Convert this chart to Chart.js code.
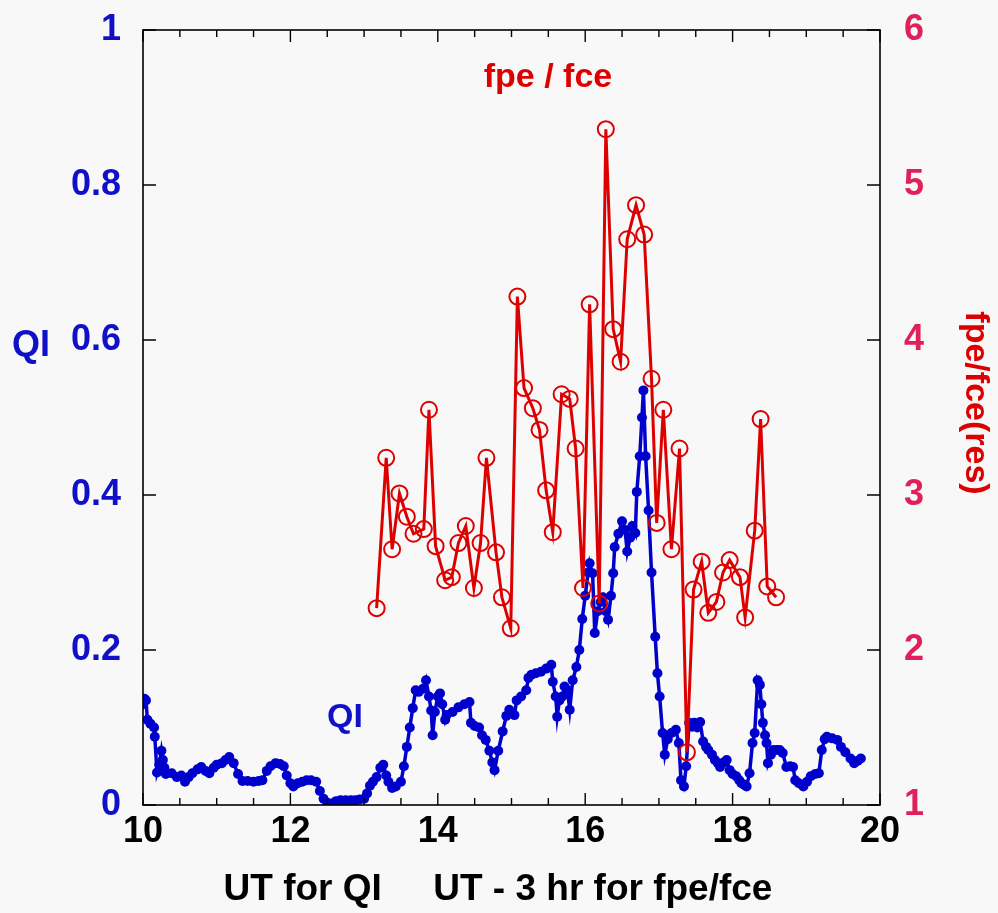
<!DOCTYPE html>
<html>
<head>
<meta charset="utf-8">
<script src="https://cdn.jsdelivr.net/npm/chart.js@4"></script>
<style>
  html, body { margin: 0; padding: 0; background: #f8f8f8; }
  #wrap { position: relative; width: 998px; height: 913px; }
</style>
</head>
<body>
<div id="wrap"><canvas id="chart" width="998" height="913"></canvas></div>
<script>
// QI series (UT hours)
const qiTime = [
  10.00, 10.02, 10.04, 10.06, 10.10, 10.15, 10.16, 10.19, 10.22, 10.25, 10.27, 10.29, 10.31, 10.39, 10.46,
  10.52, 10.57, 10.62, 10.67, 10.74, 10.79, 10.85, 10.90, 10.96, 11.00, 11.07, 11.12, 11.17, 11.23, 11.29,
  11.35, 11.42, 11.50, 11.57, 11.62, 11.68, 11.73, 11.80, 11.86, 11.91, 11.95, 12.00, 12.04, 12.10, 12.16,
  12.22, 12.28, 12.35, 12.40, 12.45, 12.50, 12.56, 12.62, 12.68, 12.75, 12.82, 12.88, 12.94, 13.00, 13.04,
  13.08, 13.12, 13.17, 13.22, 13.26, 13.30, 13.33, 13.38, 13.43, 13.50, 13.54, 13.58, 13.62, 13.66, 13.70,
  13.74, 13.80, 13.84, 13.88, 13.91, 13.93, 13.96, 14.00, 14.03, 14.06, 14.10, 14.12, 14.20, 14.28, 14.36,
  14.43, 14.45, 14.50, 14.56, 14.60, 14.65, 14.70, 14.74, 14.77, 14.82, 14.88, 14.93, 14.97, 15.04, 15.07,
  15.13, 15.20, 15.23, 15.27, 15.33, 15.40, 15.47, 15.54, 15.56, 15.60, 15.62, 15.65, 15.69, 15.72, 15.76,
  15.79, 15.83, 15.88, 15.92, 15.96, 16.00, 16.04, 16.06, 16.10, 16.13, 16.17, 16.21, 16.24, 16.28, 16.31,
  16.35, 16.38, 16.40, 16.45, 16.50, 16.54, 16.57, 16.61, 16.64, 16.68, 16.70, 16.74, 16.77, 16.79, 16.82,
  16.86, 16.90, 16.95, 16.98, 17.01, 17.05, 17.08, 17.12, 17.17, 17.23, 17.27, 17.30, 17.34, 17.37, 17.41,
  17.45, 17.48, 17.52, 17.56, 17.60, 17.64, 17.67, 17.72, 17.76, 17.80, 17.83, 17.88, 17.92, 17.96, 18.00,
  18.05, 18.09, 18.12, 18.16, 18.19, 18.23, 18.27, 18.30, 18.34, 18.37, 18.39, 18.41, 18.44, 18.46, 18.48,
  18.52, 18.55, 18.60, 18.64, 18.68, 18.73, 18.78, 18.82, 18.85, 18.90, 18.96, 19.01, 19.06, 19.12, 19.17,
  19.21, 19.25, 19.28, 19.35, 19.42, 19.47, 19.53, 19.60, 19.65, 19.70, 19.74
];
const qiValue = [
  0.130, 0.137, 0.135, 0.110, 0.105, 0.100, 0.088, 0.042, 0.052, 0.070, 0.058, 0.048, 0.040, 0.041, 0.036,
  0.038, 0.030, 0.036, 0.041, 0.046, 0.049, 0.044, 0.041, 0.048, 0.052, 0.054, 0.058, 0.062, 0.054, 0.040,
  0.031, 0.031, 0.030, 0.031, 0.032, 0.044, 0.050, 0.054, 0.053, 0.050, 0.038, 0.028, 0.024, 0.028, 0.030,
  0.032, 0.032, 0.030, 0.018, 0.008, 0.003, 0.002, 0.005, 0.006, 0.006, 0.006, 0.006, 0.007, 0.008, 0.015,
  0.025, 0.030, 0.036, 0.048, 0.052, 0.038, 0.030, 0.022, 0.024, 0.030, 0.050, 0.075, 0.100, 0.125, 0.148,
  0.146, 0.150, 0.161, 0.140, 0.122, 0.090, 0.120, 0.140, 0.144, 0.130, 0.110, 0.116, 0.120, 0.126, 0.130,
  0.133, 0.106, 0.102, 0.100, 0.090, 0.084, 0.070, 0.055, 0.045, 0.070, 0.095, 0.115, 0.123, 0.116, 0.135,
  0.140, 0.148, 0.164, 0.168, 0.170, 0.172, 0.176, 0.181, 0.159, 0.140, 0.114, 0.135, 0.140, 0.153, 0.148,
  0.123, 0.161, 0.178, 0.200, 0.240, 0.270, 0.300, 0.312, 0.299, 0.222, 0.250, 0.262, 0.268, 0.250, 0.239,
  0.270, 0.299, 0.333, 0.350, 0.366, 0.355, 0.327, 0.345, 0.360, 0.351, 0.404, 0.450, 0.500, 0.535, 0.450,
  0.380, 0.300, 0.217, 0.170, 0.140, 0.093, 0.065, 0.085, 0.093, 0.097, 0.080, 0.032, 0.024, 0.050, 0.106,
  0.101, 0.106, 0.100, 0.107, 0.082, 0.075, 0.071, 0.065, 0.058, 0.054, 0.049, 0.055, 0.058, 0.045, 0.040,
  0.037, 0.032, 0.028, 0.026, 0.024, 0.041, 0.080, 0.093, 0.161, 0.155, 0.130, 0.106, 0.090, 0.080, 0.054,
  0.065, 0.071, 0.071, 0.071, 0.067, 0.049, 0.050, 0.049, 0.032, 0.028, 0.024, 0.030, 0.037, 0.040, 0.041,
  0.071, 0.085, 0.088, 0.086, 0.084, 0.075, 0.068, 0.060, 0.054, 0.057, 0.060
];

// fpe/fce series (UT - 3 hr)
const ratioTime = [
  13.17, 13.30, 13.38, 13.48, 13.58, 13.67, 13.81, 13.88, 13.97, 14.10, 14.19, 14.28, 14.38, 14.49, 14.58,
  14.66, 14.79, 14.87, 14.99, 15.08, 15.17, 15.29, 15.38, 15.47, 15.56, 15.68, 15.79, 15.87, 15.97, 16.06,
  16.19, 16.28, 16.38, 16.48, 16.57, 16.69, 16.80, 16.90, 16.97, 17.06, 17.17, 17.28, 17.38, 17.47, 17.58,
  17.67, 17.78, 17.87, 17.96, 18.10, 18.17, 18.30, 18.38, 18.47, 18.59
];
const ratioValue = [
  2.27, 3.24, 2.65, 3.01, 2.86, 2.75, 2.78, 3.55, 2.67, 2.45, 2.47, 2.69, 2.80, 2.40, 2.69,
  3.24, 2.63, 2.34, 2.14, 4.28, 3.69, 3.56, 3.42, 3.03, 2.76, 3.65, 3.62, 3.30, 2.40, 4.23,
  2.30, 5.36, 4.07, 3.86, 4.65, 4.87, 4.68, 3.75, 2.82, 3.55, 2.65, 3.30, 1.34, 2.39, 2.57,
  2.24, 2.31, 2.50, 2.58, 2.47, 2.21, 2.77, 3.49, 2.41, 2.34
];

const xTicks = [10, 12, 14, 16, 18, 20];
const qiTicks = [0, 0.2, 0.4, 0.6, 0.8, 1];
const qiTickLabels = ['0', '0.2', '0.4', '0.6', '0.8', '1'];
const ratioTicks = [1, 2, 3, 4, 5, 6];

const FONT = '"Liberation Sans", Arial, Helvetica, sans-serif';
const BLUE = '#0000cc';
const BLUE_TEXT = '#1010c8';
const RED = '#dd0000';
const RATIO_TICK = '#e0205a';

function noPad(scale) {
  scale.paddingTop = 0;
  scale.paddingBottom = 0;
  scale.paddingLeft = 0;
  scale.paddingRight = 0;
}

// frame, inward ticks and free text
const framePlugin = {
  id: 'frame',
  afterDraw(chart) {
    const ctx = chart.ctx;
    const a = chart.chartArea;
    const x = chart.scales.x, y = chart.scales.y, y2 = chart.scales.y2;
    ctx.save();
    ctx.strokeStyle = '#000';
    ctx.lineWidth = 1.6;
    ctx.strokeRect(a.left, a.top, a.right - a.left, a.bottom - a.top);

    ctx.lineWidth = 1.4;
    ctx.beginPath();
    for (let v = 10; v <= 20.001; v += 0.5) {
      const px = x.getPixelForValue(v);
      const len = Math.abs(v / 2 - Math.round(v / 2)) < 1e-6 ? 12 : 7;
      ctx.moveTo(px, a.bottom); ctx.lineTo(px, a.bottom - len);
      ctx.moveTo(px, a.top); ctx.lineTo(px, a.top + len);
    }
    qiTicks.forEach(v => {
      const py = y.getPixelForValue(v);
      ctx.moveTo(a.left, py); ctx.lineTo(a.left + 13, py);
    });
    ratioTicks.forEach(v => {
      const py = y2.getPixelForValue(v);
      ctx.moveTo(a.right, py); ctx.lineTo(a.right - 13, py);
    });
    ctx.stroke();

    ctx.textAlign = 'center';
    ctx.textBaseline = 'middle';
    ctx.font = 'bold 34px ' + FONT;
    ctx.fillStyle = RED;
    ctx.fillText('fpe / fce', 548, 78);

    ctx.fillStyle = BLUE_TEXT;
    ctx.fillText('QI', 345, 718);
    ctx.font = 'bold 36px ' + FONT;
    ctx.fillText('QI', 31, 346);

    ctx.fillStyle = '#000';
    ctx.font = 'bold 37px ' + FONT;
    ctx.fillText('UT for QI     UT - 3 hr for fpe/fce', 498, 890);

    ctx.save();
    ctx.translate(975, 403);
    ctx.rotate(Math.PI / 2);
    ctx.fillStyle = RED;
    ctx.font = 'bold 34px ' + FONT;
    ctx.fillText('fpe/fce(res)', 0, 0);
    ctx.restore();
    ctx.restore();
  }
};

const ctx = document.getElementById('chart').getContext('2d');
new Chart(ctx, {
  type: 'line',
  data: {
    datasets: [
      {
        label: 'fpe / fce',
        data: ratioTime.map((t, i) => ({ x: t, y: ratioValue[i] })),
        yAxisID: 'y2',
        borderColor: RED,
        borderWidth: 3,
        pointStyle: 'circle',
        pointRadius: 8,
        pointBorderWidth: 2,
        pointBorderColor: RED,
        pointBackgroundColor: 'rgba(0,0,0,0)',
        tension: 0
      },
      {
        label: 'QI',
        data: qiTime.map((t, i) => ({ x: t, y: qiValue[i] })),
        yAxisID: 'y',
        borderColor: BLUE,
        borderWidth: 3.5,
        pointRadius: 5,
        pointBorderWidth: 0,
        pointBackgroundColor: BLUE,
        tension: 0
      }
    ]
  },
  options: {
    responsive: false,
    animation: false,
    layout: { padding: { top: 30, left: 0, right: 0, bottom: 0 } },
    plugins: {
      legend: { display: false },
      tooltip: { enabled: false },
      title: { display: false }
    },
    scales: {
      x: {
        type: 'linear',
        min: 10,
        max: 20,
        afterBuildTicks: s => { s.ticks = xTicks.map(v => ({ value: v })); },
        ticks: {
          color: '#000',
          font: { family: FONT, size: 36, weight: 'bold' },
          padding: 5,
          maxRotation: 0
        },
        grid: { display: false, drawTicks: false },
        border: { display: false },
        afterFit: s => { s.height = 108; noPad(s); }
      },
      y: {
        position: 'left',
        min: 0,
        max: 1,
        afterBuildTicks: s => { s.ticks = qiTicks.map(v => ({ value: v })); },
        ticks: {
          color: BLUE_TEXT,
          font: { family: FONT, size: 36, weight: 'bold' },
          padding: 22,
          callback: (v, i) => qiTickLabels[i]
        },
        grid: { display: false, drawTicks: false },
        border: { display: false },
        afterFit: s => { s.width = 143; noPad(s); }
      },
      y2: {
        position: 'right',
        min: 1,
        max: 6,
        afterBuildTicks: s => { s.ticks = ratioTicks.map(v => ({ value: v })); },
        ticks: {
          color: RATIO_TICK,
          font: { family: FONT, size: 36, weight: 'bold' },
          padding: 24
        },
        grid: { display: false, drawTicks: false },
        border: { display: false },
        afterFit: s => { s.width = 118; noPad(s); }
      }
    }
  },
  plugins: [framePlugin]
});
</script>
</body>
</html>
